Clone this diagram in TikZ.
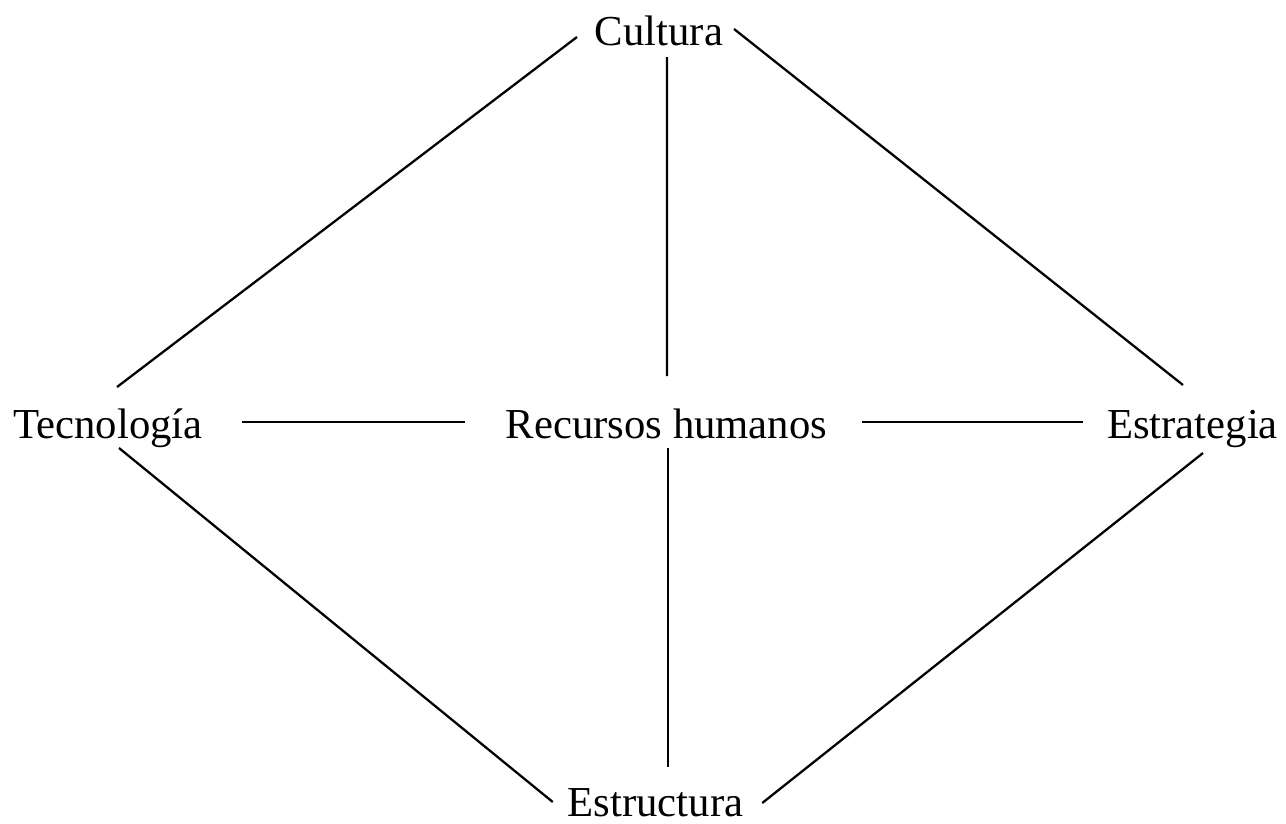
\documentclass[tikz,border=0pt]{standalone}
\usepackage{fontspec}
\setmainfont{Liberation Serif}
\usepackage{tikz}
\usetikzlibrary{positioning,calc}
\tikzset{
  lbl/.style={inner sep=0pt,outer sep=0pt,anchor=base,
              text height=0.58cm,text depth=0pt,
              font=\fontsize{24.3}{29}\selectfont},
  lnk/.style={line width=1.3pt}
}
\begin{document}
\begin{tikzpicture}[x=0.02cm,y=-0.02cm]
  \useasboundingbox (0,0) rectangle (1286,823);
  \node[lbl] (cul) at (659,45) {Cultura};
  \node[lbl] (tec) at (108,438) {Tecnología};
  \node[lbl] (rh) at (666.5,438) {Recursos humanos};
  \node[lbl] (est) at (1192.5,438) {Estrategia};
  \node[lbl] (estr) at (655.5,816) {Estructura};
  % links
  \draw[lnk] ([shift={(-18,6.5)}]cul.west) -- ([shift={(9,-22)}]tec.north);
  \draw[lnk] ([shift={(11,-1.5)}]cul.east) -- ([shift={(-9.5,-24)}]est.north);
  \draw[lnk] ([shift={(8,12)}]cul.south) -- ([shift={(0.5,-33)}]rh.north);
  \draw[lnk] ([shift={(39,-1.5)}]tec.east) -- ([shift={(-41,-1.5)}]rh.west);
  \draw[lnk] ([shift={(35,-1.5)}]rh.east) -- ([shift={(-24,-1.5)}]est.west);
  \draw[lnk] ([shift={(11,10)}]tec.south) -- ([shift={(-15,0.5)}]estr.west);
  \draw[lnk] ([shift={(10.5,15)}]est.south) -- ([shift={(19,1.5)}]estr.east);
  \draw[lnk] ([shift={(1.5,10)}]rh.south) -- ([shift={(12.5,-20)}]estr.north);
\end{tikzpicture}
\end{document}
